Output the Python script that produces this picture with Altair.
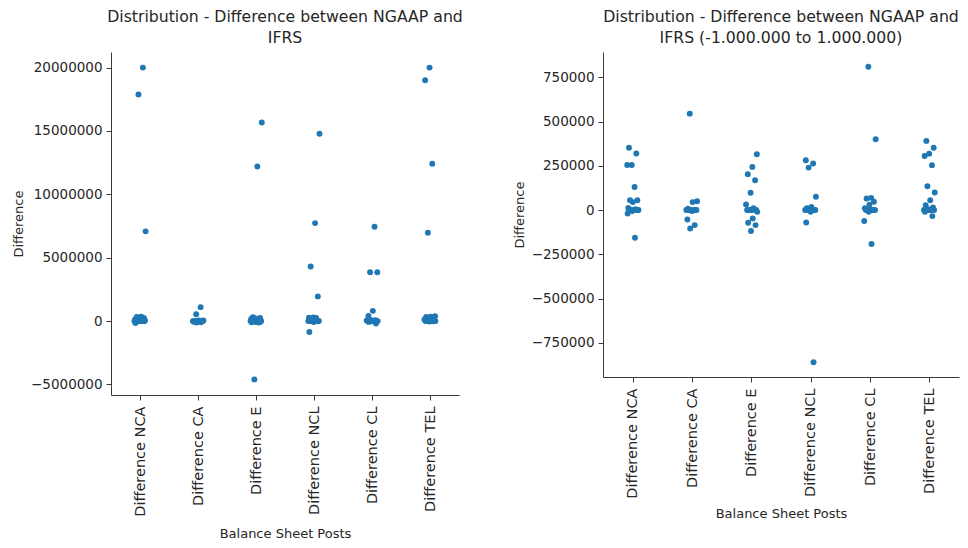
import altair as alt
import pandas as pd

# Balance sheet posts on the x axis
categories = [
    "Difference NCA",
    "Difference CA",
    "Difference E",
    "Difference NCL",
    "Difference CL",
    "Difference TEL",
]

# NGAAP minus IFRS differences per company, one list per post
diff_nca = [20000000, 17880000, 7080000, 352000, 320000, 255000, 255000, 130000,
            56000, 56000, 45000, 12000, 5000, 0, 0, 0, 0, 0, -5000, -19000, -156000]
diff_ca = [1100000, 545000, 50000, 45000, 8000, 0, 0, 0, 0, 0, 0,
           -5000, -53000, -85000, -104000]
diff_e = [15670000, 12200000, 316000, 244000, 203000, 169000, 97600, 31600, 10000,
          0, 0, 0, 0, 0, 0, -10000, -47000, -72000, -85000, -118000, -4600000]
diff_ncl = [14780000, 7730000, 4310000, 1950000, 282000, 263000, 240000, 75000,
            18000, 10000, 0, 0, 0, 0, 0, 0, -10000, -70000, -860000]
diff_cl = [7440000, 3860000, 3850000, 810000, 400000, 69000, 65000, 47000, 30000,
           10000, 0, 0, 0, 0, 0, 0, -10000, -62000, -192000]
diff_tel = [20000000, 19000000, 12410000, 6970000, 391000, 352000, 319000, 306000,
            254000, 135000, 99000, 56000, 28000, 15000, 5000, 0, 0, 0, 0, 0,
            -10000, -34000]

series = [diff_nca, diff_ca, diff_e, diff_ncl, diff_cl, diff_tel]

ticks_full = [-5000000, 0, 5000000, 10000000, 15000000, 20000000]
ticks_zoom = [-750000, -500000, -250000, 0, 250000, 500000, 750000]

rows = []
for idx, (cat, vals) in enumerate(zip(categories, series)):
    for v in vals:
        rows.append({"post": cat, "pos": idx, "value": v})
df = pd.DataFrame(rows)

label_expr = "[" + ",".join(f"'{c}'" for c in categories) + "][datum.value]"
FONT = "DejaVu Sans"
TEXT = "#262626"


def strip_panel(data, title_lines, width, height, y_ticks, seed, title_padding):
    lo, hi = float(data["value"].min()), float(data["value"].max())
    pad = 0.05 * (hi - lo)
    return (
        alt.Chart(
            data,
            title=alt.TitleParams(
                title_lines,
                font=FONT,
                fontSize=15.7,
                fontWeight="normal",
                color=TEXT,
                anchor="middle",
                lineHeight=21,
                offset=5,
            ),
        )
        .transform_window(i="row_number()")
        .transform_calculate(
            xj=f"datum.pos + ((datum.i * 0.6180339887 + {seed}) % 1 - 0.5) * 0.2"
        )
        .mark_circle(size=35, color="#1f77b4", opacity=1)
        .encode(
            x=alt.X(
                "xj:Q",
                title="Balance Sheet Posts",
                scale=alt.Scale(domain=[-0.5, 5.5], nice=False, zero=False),
                axis=alt.Axis(
                    values=list(range(len(categories))),
                    labelExpr=label_expr,
                    labelAngle=270,
                    labelAlign="right",
                    labelBaseline="middle",
                    labelPadding=6,
                    titlePadding=title_padding,
                ),
            ),
            y=alt.Y(
                "value:Q",
                title="Difference",
                scale=alt.Scale(domain=[lo - pad, hi + pad], nice=False, zero=False),
                axis=alt.Axis(values=y_ticks, format="d", labelPadding=4, titlePadding=5),
            ),
        )
        .properties(width=width, height=height)
    )


left = strip_panel(
    df,
    ["Distribution - Difference between NGAAP and", "IFRS"],
    348, 343, ticks_full, 0.13, 11,
)
right = strip_panel(
    df[(df["value"] >= -1000000) & (df["value"] <= 1000000)],
    ["Distribution - Difference between NGAAP and", "IFRS (-1.000.000 to 1.000.000)"],
    356, 325, ticks_zoom, 0.57, 9,
)

chart = (
    alt.hconcat(left, right, spacing=50)
    .properties(padding={"left": 12, "top": 9, "right": 4, "bottom": 2}, background="white")
    .configure_view(strokeWidth=0)
    .configure_axis(
        grid=False,
        labelFont=FONT,
        labelColor=TEXT,
        labelFlush=False,
        labelOverlap=False,
        titleFont=FONT,
        titleFontSize=13,
        titleFontWeight="normal",
        titleColor=TEXT,
        domainColor="#3a3a3a",
        tickColor="#3a3a3a",
        tickSize=5,
    )
    .configure_axisX(labelFontSize=14.5)
    .configure_axisY(labelFontSize=13.5)
)

chart.save("out.html", embed_options={"renderer": "svg", "actions": False})
